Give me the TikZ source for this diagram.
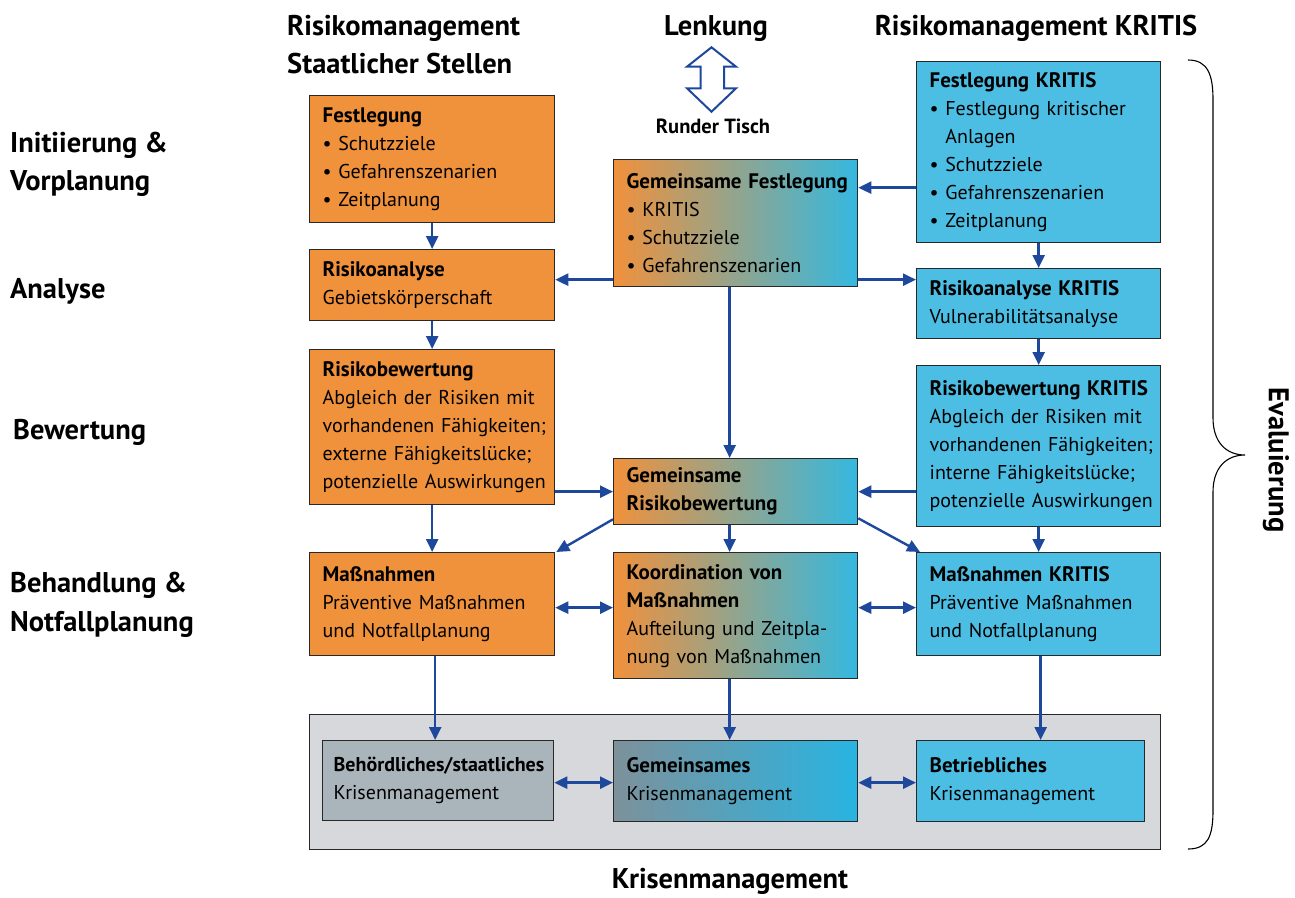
\documentclass[tikz,border=0pt]{standalone}
\usepackage{fontspec}
\setmainfont{PT Sans}
\usetikzlibrary{arrows.meta,calc}
\definecolor{orgcol}{RGB}{240,145,60}
\definecolor{blucol}{RGB}{76,190,228}
\definecolor{cyancol}{RGB}{52,184,224}
\definecolor{midcol}{RGB}{178,172,140}
\definecolor{bordcol}{RGB}{40,40,40}
\definecolor{arrcol}{RGB}{30,72,155}
\definecolor{contcol}{RGB}{215,216,220}
\definecolor{behcol}{RGB}{169,181,187}
\definecolor{gkleft}{RGB}{125,145,155}
\definecolor{gkright}{RGB}{40,180,226}
\newcommand\bul{•\ }
\newcommand\bulind{\hphantom{•}\ }
\newcommand\tb[1]{\mbox{\fontsize{21}{28}\selectfont\bfseries #1}}
\newcommand\tbs[1]{\mbox{\fontsize{20}{28}\selectfont\bfseries #1}}
\newcommand\lnb[1]{\mbox{#1}}
\tikzset{
  box/.style={draw=bordcol, line width=1.3pt, rectangle, anchor=north west,
    inner xsep=13pt, inner ysep=0pt, align=left,
    font=\fontsize{20}{28}\selectfont, text=black},
  org/.style={box, fill=orgcol},
  blu/.style={box, fill=blucol},
  mix/.style={box, left color=orgcol, middle color=midcol, right color=cyancol},
  conn/.style={draw=arrcol, line width=2.4pt, -{Triangle[length=13pt,width=12pt]}},
  dconn/.style={draw=arrcol, line width=2.4pt, {Triangle[length=13pt,width=12pt]}-{Triangle[length=13pt,width=12pt]}},
  hdr/.style={font=\fontsize{28.5}{38}\selectfont\bfseries, anchor=base west, inner sep=0pt},
  hdrc/.style={font=\fontsize{28.5}{38}\selectfont\bfseries, anchor=base, inner sep=0pt},
}
\begin{document}
\begin{tikzpicture}[x=1pt,y=-1pt]
\fill[white] (0,0) rectangle (1295,897);
\useasboundingbox (0,0) rectangle (1295,897);

% headers
\node[hdr] (h1) at (287,35) {Risikomanagement};
\node[hdr] (h2) at (287,73) {Staatlicher Stellen};
\node[hdrc] (h3) at (716,35) {Lenkung};
\node[hdrc] (h4) at (1036,35) {Risikomanagement KRITIS};

% left labels
\node[hdr] (l1) at (10,152) {Initiierung \&};
\node[hdr] (l2) at (10,190) {Vorplanung};
\node[hdr] (l3) at (10,298) {Analyse};
\node[hdr] (l4) at (13,439) {Bewertung};
\node[hdr] (l5) at (10,592) {Behandlung \&};
\node[hdr] (l6) at (10,631) {Notfallplanung};

% Lenkung double arrow
\draw[arrcol, line width=2pt, fill=white, line join=miter]
  (711.5,47.3) -- (736,66.7) -- (724,66.7) -- (724,88.3) -- (736,88.3) -- (711.5,111.7)
  -- (687,88.3) -- (700.7,88.3) -- (700.7,66.7) -- (687,66.7) -- cycle;
\node[font=\fontsize{20.5}{24}\selectfont\bfseries, anchor=base, inner sep=0pt] (rt) at (713,133) {Runder Tisch};

% container
\node[draw=bordcol, fill=contcol, line width=1.3pt, minimum width=851pt, minimum height=135pt,
  anchor=north west, inner sep=0pt] (KM) at (309,714) {};

% left column
\node[org, minimum width=245pt, text width=219pt, minimum height=127pt] (LFest) at (309,95)
  {\tb{Festlegung}\\\bul Schutzziele\\\bul Gefahrenszenarien\\\bul Zeitplanung};
\node[org, minimum width=245pt, text width=219pt, minimum height=71pt] (LRA) at (309,249)
  {\tb{Risikoanalyse}\\Gebietskörperschaft};
\node[org, minimum width=245pt, text width=219pt, minimum height=155pt] (LRB) at (309,349)
  {\tb{Risikobewertung}\\\lnb{Abgleich der Risiken mit}\\\lnb{vorhandenen Fähigkeiten;}\\\lnb{externe Fähigkeitslücke;}\\\lnb{potenzielle Auswirkungen}};
\node[org, minimum width=245pt, text width=219pt, minimum height=103pt] (LM) at (309,552)
  {\tb{Maßnahmen}\\\lnb{Präventive Maßnahmen}\\\lnb{und Notfallplanung}};

% middle column
\node[mix, minimum width=244pt, text width=218pt, minimum height=127pt] (GFest) at (613,159)
  {\tb{Gemeinsame Festlegung}\\\bul KRITIS\\\bul Schutzziele\\\bul Gefahrenszenarien};
\node[mix, minimum width=244pt, text width=218pt, minimum height=66pt] (GRB) at (613,458)
  {\tb{Gemeinsame}\\\tb{Risikobewertung}};
\node[mix, minimum width=244pt, text width=218pt, minimum height=126pt] (Koord) at (613,552)
  {\tb{Koordination von}\\\tb{Maßnahmen}\\\lnb{Aufteilung und Zeitpla-}\\\lnb{nung von Maßnahmen}};

% right column
\node[blu, minimum width=244pt, text width=218pt, minimum height=181pt] (RFest) at (916,61)
  {\tb{Festlegung KRITIS}\\\lnb{\bul Festlegung kritischer}\\\bulind Anlagen\\\bul Schutzziele\\\bul Gefahrenszenarien\\\bul Zeitplanung};
\node[blu, minimum width=244pt, text width=218pt, minimum height=70pt] (RRA) at (916,268)
  {\tb{Risikoanalyse KRITIS}\\\lnb{Vulnerabilitätsanalyse}};
\node[blu, minimum width=244pt, text width=218pt, minimum height=161pt] (RRB) at (916,365)
  {\tb{Risikobewertung KRITIS}\\\lnb{Abgleich der Risiken mit}\\\lnb{vorhandenen Fähigkeiten;}\\\lnb{interne Fähigkeitslücke;}\\\lnb{potenzielle Auswirkungen}};
\node[blu, minimum width=244pt, text width=218pt, minimum height=103pt] (RM) at (916,552)
  {\tb{Maßnahmen KRITIS}\\\lnb{Präventive Maßnahmen}\\\lnb{und Notfallplanung}};

% crisis management boxes
\node[box, fill=behcol, inner xsep=11pt, minimum width=231pt, text width=209pt, minimum height=80pt] (BK) at (322,740)
  {\tbs{Behördliches/staatliches}\\Krisenmanagement};
\node[box, left color=gkleft, right color=gkright, minimum width=244pt, text width=218pt, minimum height=81pt] (GK) at (613,740)
  {\tb{Gemeinsames}\\Krisenmanagement};
\node[blu, minimum width=228pt, text width=202pt, minimum height=81pt] (BtK) at (916,740)
  {\tb{Betriebliches}\\Krisenmanagement};

% bottom label and Evaluierung
\node[hdrc] (kmlab) at (730,888) {Krisenmanagement};
\node[font=\fontsize{28.5}{32}\selectfont\bfseries, rotate=-90, inner sep=0pt] (ev) at (1276,460) {Evaluierung};
\draw[line width=1.1pt] (1188,60) .. controls (1208,60) and (1213,75) .. (1213,100)
  -- (1213,418) .. controls (1213,442) and (1226,455) .. (1245,455)
  .. controls (1226,455) and (1213,468) .. (1213,492)
  -- (1213,810) .. controls (1213,836) and (1208,849) .. (1188,849);

% connectors left column
\draw[conn] (LFest.south) -- (LRA.north);
\draw[conn] (LRA.south) -- (LRB.north);
\draw[conn] (LRB.south) -- (LM.north);
% right column
\draw[conn] (RFest.south) -- (RRA.north);
\draw[conn] (RRA.south) -- (RRB.north);
\draw[conn] (RRB.south) -- (RM.north);
% Festlegung links
\draw[conn] ($(RFest.west)+(0,35.5)$) -- ($(GFest.east|-RFest.west)+(0,35.5)$);
\draw[conn] ($(GFest.west|-LRA.east)+(0,-5.5)$) -- ($(LRA.east)+(0,-5.5)$);
\draw[conn] ($(GFest.east|-RRA.west)+(0,-24)$) -- ($(RRA.west)+(0,-24)$);
\draw[conn] ($(GFest.south)+(-6,0)$) -- ($(GRB.north)+(-6,0)$);
% Bewertung links
\draw[conn] (LRB.east|-GRB.west) -- (GRB.west);
\draw[conn] (RRB.west|-GRB.east) -- (GRB.east);
\draw[conn] ($(GRB.south west)+(0,-6)$) -- ($(LM.north east)+(1,0)$);
\draw[conn] ($(GRB.south east)+(0,-7)$) -- ($(RM.north west)+(4,0)$);
\draw[conn] ($(GRB.south)+(-6,0)$) -- ($(Koord.north)+(-6,0)$);
% Massnahmen links
\draw[dconn] ($(LM.east)+(0,3.5)$) -- ($(Koord.west|-LM.east)+(0,3.5)$);
\draw[dconn] ($(Koord.east|-RM.west)+(0,3.5)$) -- ($(RM.west)+(0,3.5)$);
% to crisis management
\draw[conn] ($(LM.south)+(3,0)$) -- ($(BK.north)+(-3,0)$);
\draw[conn] ($(Koord.south)+(-6,0)$) -- ($(GK.north)+(-6,0)$);
\draw[conn] ($(RM.south)+(2,0)$) -- ($(BtK.north)+(10,0)$);
\draw[dconn] ($(BK.east)+(0,2)$) -- ($(GK.west|-BK.east)+(0,2)$);
\draw[dconn] ($(GK.east)+(0,1.5)$) -- ($(BtK.west|-GK.east)+(0,1.5)$);
\end{tikzpicture}
\end{document}
